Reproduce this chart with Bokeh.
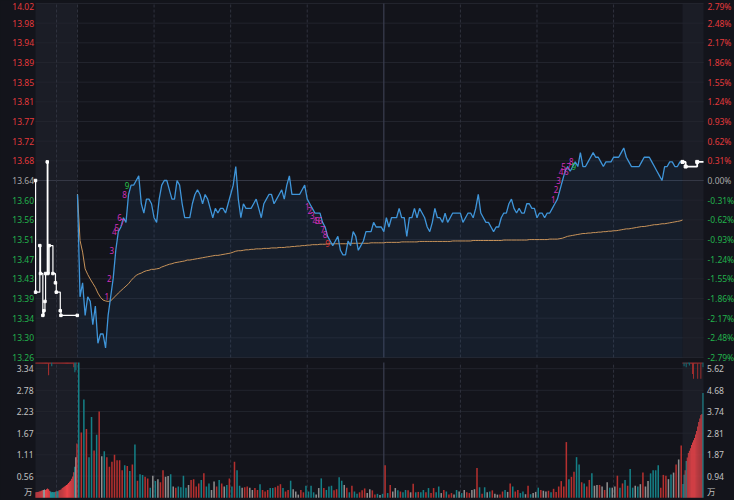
from bokeh.plotting import figure
from bokeh.models import Range1d, BoxAnnotation, GlobalInlineStyleSheet
from bokeh.core.properties import value
from bokeh.embed import file_html
from bokeh.resources import INLINE

# ---------------- data ----------------
prev_close = 13.64
pct_ticks = [2.79, 2.48, 2.17, 1.86, 1.55, 1.24, 0.93, 0.62, 0.31, 0.00,
             -0.31, -0.62, -0.93, -1.24, -1.55, -1.86, -2.17, -2.48, -2.79]
price_tick_labels = ["14.02", "13.98", "13.94", "13.89", "13.85", "13.81", "13.77",
                     "13.72", "13.68", "13.64", "13.60", "13.56", "13.51", "13.47",
                     "13.43", "13.39", "13.34", "13.30", "13.26"]
pct_tick_labels = ["2.79%", "2.48%", "2.17%", "1.86%", "1.55%", "1.24%", "0.93%",
                   "0.62%", "0.31%", "0.00%", "-0.31%", "-0.62%", "-0.93%", "-1.24%",
                   "-1.55%", "-1.86%", "-2.17%", "-2.48%", "-2.79%"]
vol_ticks_left = [3.34, 2.78, 2.23, 1.67, 1.11, 0.56]
vol_labels_left = ["3.34", "2.78", "2.23", "1.67", "1.11", "0.56"]
vol_ticks_right = [5.62, 4.68, 3.74, 2.81, 1.87, 0.94]
vol_labels_right = ["5.62", "4.68", "3.74", "2.81", "1.87", "0.94"]
unit_label = "万"

time_grid = [0, 30, 60, 90, 150, 180, 210]   # minutes after 9:30 (dashed)
midday = [120]                                # 11:30 / 13:00 (solid)
pre_grid = [5]                                # 9:20, minutes after 9:15

# one-minute prices 9:30 .. 14:57
price = [
    13.61, 13.39, 13.42, 13.35, 13.39, 13.38, 13.33, 13.37, 13.29, 13.31,
    13.31, 13.28, 13.35, 13.39, 13.43, 13.49, 13.53, 13.54, 13.56, 13.55,
    13.61, 13.63, 13.63, 13.64, 13.65, 13.59, 13.57, 13.60, 13.60, 13.59,
    13.56, 13.55, 13.60, 13.63, 13.64, 13.64, 13.62, 13.60, 13.60, 13.64,
    13.63, 13.59, 13.56, 13.56, 13.56, 13.59, 13.61, 13.62, 13.61, 13.59,
    13.61, 13.60, 13.58, 13.56, 13.58, 13.57, 13.58, 13.58, 13.57, 13.59,
    13.61, 13.63, 13.67, 13.60, 13.56, 13.59, 13.58, 13.58, 13.58, 13.59,
    13.60, 13.58, 13.56, 13.59, 13.60, 13.61, 13.61, 13.59, 13.60, 13.61,
    13.62, 13.60, 13.63, 13.65, 13.61, 13.61, 13.61, 13.61, 13.62, 13.63,
    13.60, 13.59, 13.58, 13.57, 13.57, 13.57, 13.55, 13.54, 13.52, 13.51,
    13.50, 13.51, 13.52, 13.49, 13.48, 13.48, 13.51, 13.50, 13.53, 13.52,
    13.49, 13.50, 13.51, 13.53, 13.53, 13.53, 13.55, 13.54, 13.54, 13.54,
    13.53, 13.56, 13.54, 13.56, 13.56, 13.56, 13.58, 13.56, 13.56, 13.52,
    13.56, 13.56, 13.58, 13.56, 13.58, 13.57, 13.56, 13.54, 13.53, 13.55,
    13.58, 13.56, 13.56, 13.55, 13.57, 13.55, 13.56, 13.57, 13.57, 13.57,
    13.57, 13.55, 13.56, 13.57, 13.57, 13.56, 13.58, 13.61, 13.57, 13.56,
    13.55, 13.55, 13.54, 13.53, 13.54, 13.54, 13.56, 13.57, 13.57, 13.59,
    13.60, 13.58, 13.57, 13.58, 13.57, 13.57, 13.59, 13.59, 13.58, 13.58,
    13.56, 13.57, 13.57, 13.56, 13.57, 13.57, 13.58, 13.59, 13.60, 13.62,
    13.64, 13.66, 13.67, 13.66, 13.67, 13.68, 13.67, 13.70, 13.67, 13.67,
    13.68, 13.69, 13.70, 13.69, 13.69, 13.68, 13.67, 13.68, 13.68, 13.68,
    13.69, 13.69, 13.69, 13.70, 13.71, 13.69, 13.68, 13.67, 13.67, 13.67,
    13.67, 13.68, 13.69, 13.69, 13.69, 13.68, 13.67, 13.66, 13.65, 13.64,
    13.67, 13.67, 13.68, 13.68, 13.67, 13.67, 13.68, 13.68]

avg_price = [
    13.611, 13.511, 13.486, 13.450, 13.438, 13.428, 13.419, 13.410, 13.398, 13.389,
    13.383, 13.381, 13.380, 13.381, 13.387, 13.392, 13.398, 13.403, 13.408, 13.413,
    13.418, 13.425, 13.431, 13.436, 13.439, 13.441, 13.444, 13.446, 13.447, 13.449,
    13.449, 13.450, 13.451, 13.454, 13.456, 13.458, 13.460, 13.461, 13.463, 13.464,
    13.465, 13.466, 13.467, 13.469, 13.469, 13.470, 13.471, 13.472, 13.473, 13.474,
    13.475, 13.476, 13.477, 13.478, 13.479, 13.479, 13.480, 13.481, 13.482, 13.483,
    13.484, 13.486, 13.488, 13.489, 13.489, 13.490, 13.491, 13.491, 13.492, 13.492,
    13.493, 13.493, 13.493, 13.494, 13.494, 13.494, 13.495, 13.495, 13.495, 13.496,
    13.496, 13.496, 13.497, 13.497, 13.498, 13.498, 13.499, 13.499, 13.500, 13.500,
    13.501, 13.501, 13.502, 13.502, 13.502, 13.503, 13.503, 13.503, 13.504, 13.504,
    13.504, 13.504, 13.504, 13.504, 13.504, 13.504, 13.504, 13.505, 13.505, 13.505,
    13.505, 13.505, 13.505, 13.505, 13.505, 13.506, 13.506, 13.506, 13.506, 13.506,
    13.506, 13.507, 13.507, 13.507, 13.507, 13.507, 13.507, 13.508, 13.508, 13.508,
    13.508, 13.508, 13.508, 13.508, 13.509, 13.509, 13.509, 13.509, 13.509, 13.509,
    13.509, 13.509, 13.509, 13.509, 13.509, 13.509, 13.509, 13.510, 13.510, 13.510,
    13.510, 13.510, 13.510, 13.510, 13.510, 13.511, 13.511, 13.511, 13.511, 13.511,
    13.511, 13.511, 13.511, 13.511, 13.511, 13.511, 13.511, 13.512, 13.512, 13.512,
    13.512, 13.512, 13.512, 13.512, 13.512, 13.512, 13.512, 13.513, 13.513, 13.513,
    13.513, 13.513, 13.513, 13.513, 13.513, 13.514, 13.514, 13.514, 13.514, 13.515,
    13.516, 13.518, 13.520, 13.521, 13.522, 13.523, 13.524, 13.525, 13.526, 13.526,
    13.527, 13.527, 13.528, 13.528, 13.529, 13.529, 13.530, 13.530, 13.531, 13.531,
    13.532, 13.532, 13.533, 13.534, 13.535, 13.536, 13.536, 13.537, 13.538, 13.539,
    13.540, 13.541, 13.541, 13.542, 13.543, 13.544, 13.545, 13.545, 13.546, 13.547,
    13.547, 13.548, 13.549, 13.550, 13.551, 13.552, 13.553, 13.555]

# one-minute volume (万, first bar runs off the panel), u = up, d = down, f = flat
volume = [
    3.50, 1.69, 2.54, 1.78, 1.05, 2.09, 1.22, 1.63, 2.23, 1.07,
    1.20, 1.05, 0.80, 0.93, 1.11, 0.97, 0.97, 0.71, 0.84, 0.82,
    0.69, 0.86, 1.38, 0.44, 0.61, 0.59, 0.54, 0.50, 0.26, 0.57,
    0.43, 0.48, 0.40, 0.71, 0.54, 0.56, 0.61, 0.29, 0.26, 0.29,
    0.27, 0.57, 0.26, 0.33, 0.46, 0.48, 0.29, 0.37, 0.46, 0.63,
    0.29, 0.37, 0.20, 0.42, 0.29, 0.46, 0.37, 0.29, 0.33, 0.50,
    0.29, 0.93, 0.71, 0.31, 0.26, 0.27, 0.29, 0.26, 0.20, 0.25,
    0.20, 0.35, 0.20, 0.16, 0.20, 0.25, 0.25, 0.27, 0.31, 0.35,
    0.25, 0.16, 0.20, 0.44, 0.22, 0.16, 0.08, 0.20, 0.14, 0.31,
    0.16, 0.31, 0.14, 0.08, 0.25, 0.50, 0.25, 0.20, 0.29, 0.31,
    0.19, 0.22, 0.53, 0.44, 0.33, 0.26, 0.14, 0.31, 0.16, 0.10,
    0.14, 0.19, 0.24, 0.12, 0.22, 0.19, 0.08, 0.10, 0.07, 0.10,
    0.84, 0.12, 0.33, 0.16, 0.25, 0.19, 0.16, 0.14, 0.20, 0.19,
    0.14, 0.36, 0.14, 0.15, 0.14, 0.20, 0.14, 0.25, 0.12, 0.25,
    0.14, 0.29, 0.12, 0.20, 0.16, 0.08, 0.12, 0.08, 0.20, 0.16,
    0.12, 0.20, 0.14, 0.12, 0.20, 0.22, 0.77, 0.27, 0.10, 0.27,
    0.14, 0.16, 0.19, 0.10, 0.08, 0.08, 0.16, 0.20, 0.15, 0.37,
    0.29, 0.16, 0.20, 0.12, 0.16, 0.09, 0.31, 0.09, 0.12, 0.15,
    0.26, 0.20, 0.18, 0.16, 0.18, 0.14, 0.23, 0.15, 0.29, 0.43,
    0.29, 1.44, 0.48, 0.54, 0.67, 1.05, 0.86, 0.40, 0.37, 0.29,
    0.46, 0.63, 0.31, 0.33, 0.33, 0.29, 0.20, 0.40, 0.26, 0.26,
    0.29, 0.57, 0.26, 0.37, 0.46, 0.31, 0.74, 0.26, 0.31, 0.29,
    0.35, 0.65, 0.29, 0.43, 0.63, 0.71, 0.71, 0.84, 0.26, 0.59,
    0.57, 0.48, 0.60, 0.65, 0.86, 0.99, 1.35]
volume_dir = ("dududduduf" "duuuuuuudu" "dududduudf" "dfuuffdfud" "dddfuuuudu"
              "ddffudufdu" "duddfuuffu" "uduuudduuu" "duudfffuud" "dddffduddd"
              "uuddfududd" "uuuffuudfd" "uduffduddu" "fududduduu" "ddfuduufdf"
              "dfuuffudud" "fduffuudfu" "duuddfudff" "duffuduuuu" "uuduuddudu"
              "udffufufdf" "fudududdfd" "fuffdddduu" "ufdfufu")

# call auction 9:15-9:25 (minutes after 9:15)
pre_line_t = [0.0, 0.02, 1.03, 1.2, 1.75, 2.0, 2.25, 2.4, 2.8, 2.95, 3.25,
              4.15, 4.75, 4.95, 5.9, 6.05, 9.95]
pre_line_p = [13.64, 13.40, 13.50, 13.44, 13.35, 13.36, 13.38, 13.44, 13.68, 13.44,
              13.50, 13.44, 13.42, 13.40, 13.36, 13.35, 13.35]
pre_vol = [0.14, 0.15, 0.15, 0.16, 0.17, 0.18, 0.19, 0.20, 0.21, 0.20,
           0.22, 0.24, 0.22, 0.18, 0.16, 0.14, 0.15, 0.14, 0.15, 0.16,
           0.17, 0.17, 0.19, 0.20, 0.22, 0.25, 0.27, 0.29, 0.31, 0.33,
           0.35, 0.38, 0.41, 0.44, 0.49, 0.55, 0.66, 0.80, 1.05, 1.40]
pre_vol_dir = "uuuuuuuffuuuuudddddudduuuuuuuuuuuuuuudwu"
pre_unmatched = [0.03, 0.03, 0.03, 0.03, 0.03, 0.03, 0.03, 0.03, 0.03, 0.03,
                 0.03, 0.03, 0.33, 0.03, 0.03, 0.10, 0.03, 0.03, 0.03, 0.03,
                 0.03, 0.03, 0.03, 0.03, 0.03, 0.03, 0.03, 0.03, 0.03, 0.03,
                 0.03, 0.03, 0.03, 0.03, 0.03, 0.03, 0.12, 0.25, 0.20, 0.03]
pre_unmatched_dir = "uuuuuuuuuuuuuuuduuuuuuuuuuuuuuuuuuuuuddu"

# closing auction 14:57-15:00 (minutes after 14:57)
close_line_t = [0.0, 0.45, 2.1, 3.0]
close_line_p = [13.68, 13.67, 13.68, 13.68]
close_vol = [0.60, 1.00, 1.20, 1.60, 1.75, 1.95, 2.05, 2.15, 2.30, 2.40,
             2.50, 2.60, 2.75, 2.90, 3.10, 3.30, 3.45, 3.60, 3.65, 4.56]
close_vol_dir = "ddudiuuuuuuuuuuuuuud".replace("i", "u")
close_unmatched = [0.03, 0.10, 0.03, 0.12, 0.03, 0.03, 0.08, 0.03, 0.03, 0.30,
                   0.42, 0.03, 0.03, 0.03, 0.42, 0.03, 0.03, 0.42, 0.03, 0.12]
close_unmatched_dir = "udududduuuuuuuuuuuud"

# TD-style sequence counters (start minute of each 1..9 run)
td_starts = [13, 90, 188]
td_numbers = ["1", "2", "3", "4", "5", "6", "7", "8", "9"]

# ---------------- style ----------------
BG = "#13141b"
GRID = "#22242d"
VLINE = "#2f323e"
MIDLINE = "#3a3e50"
PREV_LINE = "#353845"
SHADE = "#1b1d26"
UP_TXT = "#e43a3c"
DN_TXT = "#22b24c"
FLAT_TXT = "#a8a8a8"
VOL_TXT = "#c2c2c2"
BLUE = "#3f95d9"
AVG = "#c8935a"
TD_MAG = "#d02fb8"
TD_GREEN = "#27c44a"
TD_RED = "#e03434"
MAIN_COL = {"u": "#b5302f", "d": "#157f86", "f": "#8e8e8e", "w": "#f2b6b6"}
AUC_COL = {"u": "#f2464b", "d": "#1fb0b6", "f": "#a6a6a6", "w": "#f4c0c0"}
FONT = value("Noto Sans")
CJK = value("Noto Sans CJK SC")
FS = "8.5px"

# ---------------- layout (pixels of the page) ----------------
W, H = 734, 500
PX_L, PX_R = 35, 703            # plot region left/right
PRICE_TOP, PRICE_BOT = 3, 357   # price panel rows
VOL_TOP, VOL_BOT = 362, 497.2   # volume panel rows

x_start, x_end = -16.45, 245.23   # main session minutes (0 = 9:30)
n_main = len(price) - 1
pre_len, close_len = 10.0, 3.0


def stretch(lo, hi, px_lo, px_hi, before, after):
    u = (hi - lo) / (px_hi - px_lo)
    return lo - before * u, hi + after * u


X0, X1 = stretch(x_start, x_end, PX_L, PX_R, PX_L, W - PX_R)
pre_scale = (0 - x_start) / pre_len
close_scale = (x_end - n_main) / close_len

levels = [prev_close * (1 + p / 100.0) for p in pct_ticks]
y_lo, y_hi = levels[-1], levels[0]
Y0, Y1 = stretch(y_lo, y_hi, PRICE_TOP, PRICE_BOT, H - PRICE_BOT, PRICE_TOP)

v_top = 3.50
V0, V1 = stretch(0, v_top, VOL_TOP, VOL_BOT, H - VOL_BOT, VOL_TOP)
r_fac = vol_ticks_right[0] / vol_ticks_left[0]

p = figure(width=W, height=H, x_range=Range1d(X0, X1), y_range=Range1d(Y0, Y1),
           output_backend="svg", toolbar_location=None,
           x_axis_location=None, y_axis_location=None,
           min_border=0, min_border_left=0, min_border_right=0,
           min_border_top=0, min_border_bottom=0,
           background_fill_color=BG, border_fill_color=BG,
           outline_line_color=None)
p.grid.visible = False
p.extra_x_ranges = {
    "pre": Range1d((X0 - x_start) / pre_scale, (X1 - x_start) / pre_scale),
    "close": Range1d((X0 - n_main) / close_scale, (X1 - n_main) / close_scale)}
p.extra_y_ranges = {
    "vol": Range1d(V0, V1),
    "vr": Range1d(V0 * r_fac, V1 * r_fac),
    "hang": Range1d(v_top - V0, v_top - V1)}

# auction shading
for yname, lo, hi in (("default", y_lo, y_hi), ("vol", 0, v_top)):
    p.add_layout(BoxAnnotation(left=x_start, right=0, bottom=lo, top=hi,
                               y_range_name=yname, fill_color=SHADE, fill_alpha=1,
                               line_alpha=0, level="underlay"))
    p.add_layout(BoxAnnotation(left=n_main, right=x_end, bottom=lo, top=hi,
                               y_range_name=yname, fill_color=SHADE, fill_alpha=1,
                               line_alpha=0, level="underlay"))

# grid lines
p.segment(x0=x_start, y0=levels, x1=x_end, y1=levels, line_color=GRID, line_width=1)
p.segment(x0=x_start, y0=prev_close, x1=x_end, y1=prev_close,
          line_color=PREV_LINE, line_width=1)
p.segment(x0=x_start, y0=vol_ticks_left, x1=x_end, y1=vol_ticks_left,
          y_range_name="vol", line_color=GRID, line_width=1)
for yname, lo, hi in (("default", y_lo, y_hi), ("vol", 0, v_top)):
    p.segment(x0=time_grid, y0=lo, x1=time_grid, y1=hi, y_range_name=yname,
              line_color=VLINE, line_dash="3 2", line_width=1)
    p.segment(x0=pre_grid, y0=lo, x1=pre_grid, y1=hi, x_range_name="pre",
              y_range_name=yname, line_color=VLINE, line_dash="3 2", line_width=1)
    p.segment(x0=midday, y0=lo, x1=midday, y1=hi, y_range_name=yname,
              line_color=MIDLINE, line_width=1.2)

# price, average price
t_price = list(range(len(price)))
p.varea(x=t_price, y1=price, y2=y_lo, fill_color="#2a5a90", fill_alpha=0.14)
p.line(t_price, avg_price, line_color=AVG, line_width=1)
p.line(t_price, price, line_color=BLUE, line_width=1.3)

# auction price lines
p.step(pre_line_t, pre_line_p, mode="after", line_color="white", line_width=1.2,
       x_range_name="pre")
p.scatter(pre_line_t, pre_line_p, marker="square", size=2.5, color="white",
          x_range_name="pre")
p.step(close_line_t, close_line_p, mode="after", line_color="white", line_width=1.8,
       x_range_name="close")
p.scatter(close_line_t[:-1], close_line_p[:-1], marker="square", size=3,
          color="white", x_range_name="close")

# sequence counters
td_last = [TD_GREEN, TD_RED, TD_GREEN]
td_off = [(-4, 0), (0, 7), (-4, 0)]
for start, lastc, (dx, dy) in zip(td_starts, td_last, td_off):
    idx = list(range(start, start + len(td_numbers)))
    p.text(x=idx, y=[price[i] for i in idx], text=td_numbers,
           text_color=[TD_MAG] * (len(td_numbers) - 1) + [lastc],
           x_offset=dx, y_offset=dy, text_font_size="8px", text_font=FONT,
           text_align="center", text_baseline="middle")

# price / percent labels
lab_cols = [UP_TXT if v > 0 else (DN_TXT if v < 0 else FLAT_TXT) for v in pct_ticks]
edge_nudge = [2.5] + [0] * (len(levels) - 1)
p.text(x=x_start, y=levels, text=price_tick_labels, text_color=lab_cols,
       x_offset=-1.5, y_offset=edge_nudge, text_align="right", text_baseline="middle",
       text_font_size=FS, text_font=FONT)
p.text(x=x_end, y=levels, text=pct_tick_labels, text_color=lab_cols,
       x_offset=4, y_offset=edge_nudge, text_align="left", text_baseline="middle",
       text_font_size=FS, text_font=FONT)

# volume bars
t_vol = [k + 0.5 for k in range(len(volume))]
p.vbar(x=t_vol, top=volume, bottom=0, width=0.6, y_range_name="vol",
       fill_color=[MAIN_COL[c] for c in volume_dir], line_alpha=0)

t_pre = [0.125 + 0.25 * i for i in range(len(pre_vol))]
p.vbar(x=t_pre, top=pre_vol, bottom=0, width=0.23, x_range_name="pre",
       y_range_name="vol", fill_color=[AUC_COL[c] for c in pre_vol_dir], line_alpha=0)
p.vbar(x=t_pre, top=0, bottom=pre_unmatched, width=0.23, x_range_name="pre",
       y_range_name="hang", fill_color=[MAIN_COL[c] for c in pre_unmatched_dir],
       line_alpha=0)

t_close = [0.075 + 0.15 * j for j in range(len(close_vol))]
p.vbar(x=t_close, top=close_vol, bottom=0, width=0.12, x_range_name="close",
       y_range_name="vr", fill_color=[AUC_COL[c] for c in close_vol_dir], line_alpha=0)
p.vbar(x=t_close, top=0, bottom=close_unmatched, width=0.12, x_range_name="close",
       y_range_name="hang", fill_color=[MAIN_COL[c] for c in close_unmatched_dir],
       line_alpha=0)

# volume labels
p.text(x=x_start, y=vol_ticks_left, text=vol_labels_left, text_color=VOL_TXT,
       y_range_name="vol", x_offset=-2, text_align="right", text_baseline="middle",
       text_font_size=FS, text_font=FONT)
p.text(x=x_end, y=vol_ticks_right, text=vol_labels_right, text_color=VOL_TXT,
       y_range_name="vr", x_offset=3.5, text_align="left", text_baseline="middle",
       text_font_size=FS, text_font=FONT)
p.text(x=x_start, y=[0], text=[unit_label], text_color=VOL_TXT, y_range_name="vol",
       x_offset=-3, y_offset=-1, text_align="right", text_baseline="bottom",
       text_font_size=FS, text_font=CJK)
p.text(x=x_end, y=[0], text=[unit_label], text_color=VOL_TXT, y_range_name="vol",
       x_offset=3.5, y_offset=-1, text_align="left", text_baseline="bottom",
       text_font_size=FS, text_font=CJK)

p.stylesheets = [GlobalInlineStyleSheet(
    css="html, body { margin: 0; padding: 0; background: #13141b; overflow: hidden; }")]
open("out.html", "w").write(file_html(p, INLINE))
